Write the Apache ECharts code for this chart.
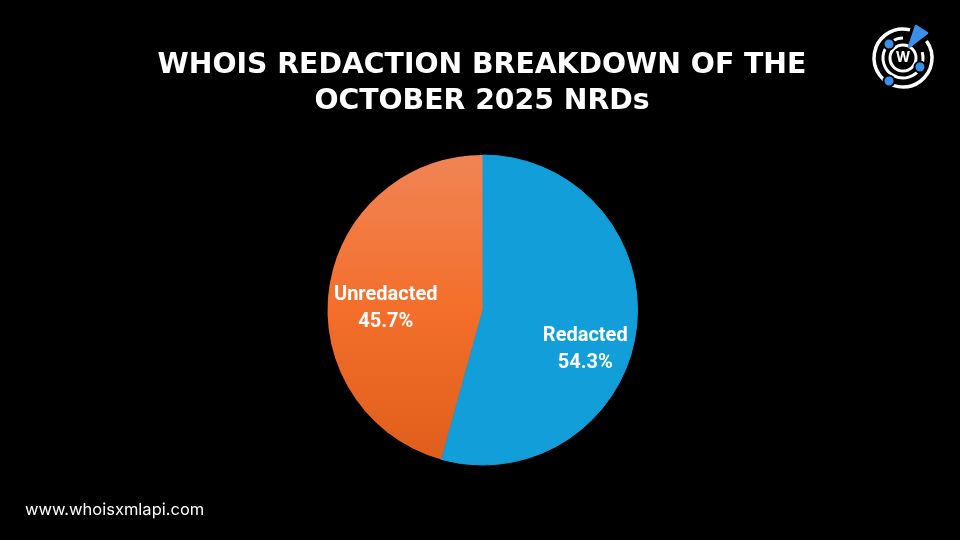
<!DOCTYPE html>
<html style="height: 100%">
<head>
  <meta charset="utf-8">
  <title>WHOIS redaction breakdown</title>
  <script src="https://cdn.jsdelivr.net/npm/echarts@6/dist/echarts.min.js"></script>
</head>
<body style="margin:0;height:100%;background:#000">
  <div id="main" style="width:960px;height:540px"></div>
  <script>
    const titleLines = ['WHOIS REDACTION BREAKDOWN OF THE', 'OCTOBER 2025 NRDs'];
    const categories = ['Redacted', 'Unredacted'];
    const shares = [54.3, 45.7];
    const footer = 'www.whoisxmlapi.com';

    const chart = echarts.init(document.getElementById('main'));

    function arc(cx, cy, r, from, to, lineWidth) {
      return {
        type: 'arc',
        shape: { cx, cy, r, startAngle: from * Math.PI / 180, endAngle: to * Math.PI / 180 },
        style: { stroke: '#fff', lineWidth, fill: null }
      };
    }
    function dot(cx, cy, r) {
      return {
        type: 'circle',
        shape: { cx, cy, r },
        style: { fill: '#3a8fe8', stroke: '#000', lineWidth: 2 }
      };
    }

    chart.setOption({
      backgroundColor: '#000',
      animation: false,
      title: {
        text: titleLines.join('\n'),
        left: 477,
        top: 43,
        textAlign: 'center',
        textStyle: {
          color: '#fff',
          fontFamily: 'DejaVu Sans',
          fontWeight: 'bold',
          fontSize: 28.3,
          lineHeight: 36
        }
      },
      graphic: [
        {
          type: 'text',
          left: 25,
          top: 502,
          style: { text: footer, fill: '#fff', fontFamily: 'Inter', fontSize: 16.5 }
        },
        arc(903, 58, 29, 324, 284, 3.5),
        arc(903, 58, 20, 343, 270, 3),
        { type: 'circle', shape: { cx: 903, cy: 58, r: 13 }, style: { fill: null, stroke: '#fff', lineWidth: 3 } },
        {
          type: 'text',
          x: 903,
          y: 58,
          style: { text: 'W', fill: '#fff', fontFamily: 'Inter', fontWeight: 'bold', fontSize: 14, align: 'center', verticalAlign: 'middle' }
        },
        dot(889, 44, 5.5),
        dot(920, 67, 5.5),
        dot(889, 81, 5.5),
        {
          type: 'polygon',
          shape: { points: [[916, 26], [927, 33], [909, 47]] },
          style: { fill: '#3a8fe8', stroke: '#3a8fe8', lineWidth: 2.5, lineJoin: 'round' }
        }
      ],
      series: [
        {
          type: 'pie',
          center: [482.5, 310],
          radius: [0, 155],
          startAngle: 90,
          clockwise: true,
          silent: true,
          label: {
            show: true,
            position: 'inside',
            formatter: p => p.name + '\n' + p.value + '%',
            color: '#fff',
            fontFamily: 'Roboto',
            fontWeight: 'bold',
            fontSize: 20,
            lineHeight: 27
          },
          labelLine: { show: false },
          data: [
            {
              name: categories[0],
              value: shares[0],
              itemStyle: { color: '#129ed9', borderColor: '#129ed9', borderWidth: 1 },
              label: { offset: [23, 29] }
            },
            {
              name: categories[1],
              value: shares[1],
              itemStyle: {
                color: new echarts.graphic.LinearGradient(0, 0, 0, 1, [
                  { offset: 0, color: '#f08456' },
                  { offset: 0.5, color: '#f36f2b' },
                  { offset: 1, color: '#e05e1b' }
                ])
              },
              label: { offset: [-17, 9] }
            }
          ]
        }
      ]
    });
  </script>
</body>
</html>
